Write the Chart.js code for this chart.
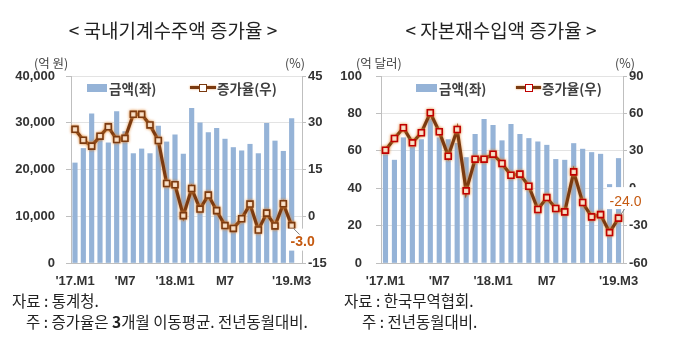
<!DOCTYPE html>
<html><head><meta charset="utf-8">
<script src="https://cdn.jsdelivr.net/npm/chart.js@4/dist/chart.umd.min.js"></script>
<style>
html,body{margin:0;padding:0;background:#fff;width:680px;height:340px;overflow:hidden;}
.abs{position:absolute;white-space:nowrap;}
.kr{font-family:"Noto Sans CJK KR","Liberation Sans",sans-serif;}
.title{font-size:19px;color:#222;transform:translate(-50%,-50%);}
.unit{font-size:12.5px;color:#444;transform:translateY(-50%);}
.leg{font-size:13.5px;font-weight:bold;color:#404040;transform:translateY(-50%);}
.foot{font-size:15.5px;color:#222;transform:translateY(-50%);transform-origin:left center;}
canvas{position:absolute;top:0;}
</style></head>
<body>
<canvas id="c1" width="340" height="300" style="left:0"></canvas>
<canvas id="c2" width="340" height="300" style="left:340px"></canvas>

<div class="abs kr title" style="left:173px;top:29px">&lt; 국내기계수주액 증가율 &gt;</div>
<div class="abs kr title" style="left:501px;top:29px">&lt; 자본재수입액 증가율 &gt;</div>

<div class="abs kr unit" style="left:34px;top:62px">(억 원)</div>
<div class="abs kr unit" style="left:285px;top:62px">(%)</div>
<div class="abs kr unit" style="left:356px;top:62px">(억 달러)</div>
<div class="abs kr unit" style="left:615px;top:62px">(%)</div>

<!-- legends -->
<div class="abs" style="left:87px;top:84px;width:20px;height:8px;background:#95B3D7"></div>
<div class="abs kr leg" style="left:109px;top:88px">금액(좌)</div>
<div class="abs" style="left:190px;top:86px;width:26px;height:3px;background:#7B3A10;box-shadow:0 0 2px #E08A3C"></div>
<div class="abs" style="left:199px;top:84px;width:6px;height:6px;background:#fff;border:1.5px solid #7B3A10"></div>
<div class="abs kr leg" style="left:217px;top:88px">증가율(우)</div>

<div class="abs" style="left:416px;top:84px;width:21px;height:8px;background:#95B3D7"></div>
<div class="abs kr leg" style="left:439px;top:88px">금액(좌)</div>
<div class="abs" style="left:516px;top:86px;width:25px;height:3px;background:#7B3A10;box-shadow:0 0 2px #E08A3C"></div>
<div class="abs" style="left:525px;top:84px;width:6px;height:6px;background:#fff;border:1.5px solid #C00000"></div>
<div class="abs kr leg" style="left:542px;top:88px">증가율(우)</div>

<!-- footers -->
<div class="abs kr foot" style="left:12px;top:300px">자료 : 통계청.</div>
<div class="abs kr foot" style="left:26px;top:321px">주 : 증가율은 <b>3</b>개월 이동평균. 전년동월대비.</div>
<div class="abs kr foot" style="left:344px;top:300px">자료 : 한국무역협회.</div>
<div class="abs kr foot" style="left:362px;top:321px">주 : 전년동월대비.</div>

<script>
// ---- data ----
const months = ["'17.M1","'17.M2","'17.M3","'17.M4","'17.M5","'17.M6","'17.M7","'17.M8","'17.M9","'17.M10","'17.M11","'17.M12",
  "'18.M1","'18.M2","'18.M3","'18.M4","'18.M5","'18.M6","'18.M7","'18.M8","'18.M9","'18.M10","'18.M11","'18.M12",
  "'19.M1","'19.M2","'19.M3"];
const tickIndex = [0, 6, 12, 18, 26];
const tickText = ["'17.M1", "'M7", "'18.M1", "M7", "'19.M3"];

const machineAmount = [21400,24500,31900,26500,25700,32400,28100,23400,24400,23400,29300,25900,
  27400,23300,33100,30000,27900,28800,26500,24700,24000,25400,23400,29900,26100,23900,30900];
const machineGrowth = [27.9,24.4,22.5,25.7,28.7,24.6,25.0,32.7,32.7,29.3,24.3,10.5,
  10.1,0.2,8.9,2.3,6.8,1.8,-3.0,-3.9,-0.8,3.9,-4.4,1.0,-3.1,4.0,-3.0];

const capitalAmount = [58,55,67,62,66,77,67,66,64,56.4,68.8,76.8,
  73.6,65.4,74.1,68.8,66.6,64.8,63.0,55.4,55.0,63.9,60.9,59.1,58.2,42.0,55.9];
const capitalGrowth = [30.5,39.9,48.5,36.4,44.5,60.5,45.3,25.7,47.1,-2.1,23.3,23.3,
  27.3,19.8,10.4,11.3,1.6,-17.1,-7.5,-16.3,-19.0,13.1,-11.5,-23.0,-21.2,-35.6,-24.0];

const leftAxis1 = {min:0, max:40000, step:10000};
const rightAxis1 = {min:-15, max:45, step:15};
const leftAxis2 = {min:0, max:100, step:20};
const rightAxis2 = {min:-60, max:90, step:30};
const lastLabel1 = "-3.0";
const lastLabel2 = "-24.0";

// ---- styling ----
const NUMFONT = '"Liberation Sans","Noto Sans CJK KR",sans-serif';
const BAR = '#95B3D7', LINE = '#7B3A10', GLOW = 'rgba(226,140,60,0.95)', AXIS = '#BFBFBF', GRID = '#E3E3E3';

const glowPlugin = {
  id:'glow',
  beforeDatasetDraw(chart, args){
    if (args.meta.type === 'line'){ const c = chart.ctx; c.save(); c.shadowColor = GLOW; c.shadowBlur = 3; }
  },
  afterDatasetDraw(chart, args){
    if (args.meta.type === 'line'){ chart.ctx.restore(); }
  }
};

function labelPlugin(text, dx, dy, box, lead, bold){
  return {
    id:'lastLabel',
    afterDatasetsDraw(chart){
      const meta = chart.getDatasetMeta(1);
      const pt = meta.data[meta.data.length-1];
      const c = chart.ctx; c.save();
      c.fillStyle = '#fff';
      c.fillRect(pt.x + box[0], pt.y + box[1], box[2], box[3]);
      c.strokeStyle = '#7F7F7F'; c.lineWidth = 1;
      c.beginPath(); c.moveTo(pt.x + lead[0], pt.y + lead[1]); c.lineTo(pt.x + lead[2], pt.y + lead[3]); c.stroke();
      c.font = (bold ? 'bold ' : '') + '14px ' + NUMFONT;
      c.fillStyle = '#C55A11'; c.textAlign = 'center'; c.textBaseline = 'middle';
      c.fillText(text, pt.x + dx, pt.y + dy);
      c.restore();
    }
  };
}

function makeChart(id, amount, growth, la, ra, opts){
  const tickFont = {family:NUMFONT, size:13, weight:'bold'};
  return new Chart(document.getElementById(id), {
    type:'bar',
    data:{ labels:months, datasets:[
      {type:'bar', data:amount, backgroundColor:BAR, barThickness:4.5, yAxisID:'y', order:2},
      {type:'line', data:growth, borderColor:LINE, borderWidth:3.2, yAxisID:'y1', order:1,
       pointStyle:'rect', pointRadius:4.2, pointBorderWidth:1.6, pointBackgroundColor:'#fff',
       pointBorderColor:opts.markerColor, tension:0}
    ]},
    options:{
      responsive:false, animation:false,
      layout:{padding:{top:76, bottom:12, left:0, right:0}},
      plugins:{legend:{display:false}, tooltip:{enabled:false}},
      scales:{
        x:{
          offset:true,
          grid:{display:false, drawTicks:false},
          border:{display:true, color:AXIS},
          ticks:{autoSkip:false, maxRotation:0, minRotation:0, padding:11, color:'#333', font:tickFont,
            callback:(v,i)=>{ const k = tickIndex.indexOf(i); return k>=0 ? tickText[k] : ''; }},
          afterFit:s=>{ s.height = 25; },
          afterBuildTicks:s=>{ if (opts.xRange){ s._startValue = opts.xRange[0]; s._valueRange = opts.xRange[1]; } }
        },
        y:{
          position:'left', min:la.min, max:la.max,
          grid:{color:GRID, drawTicks:true, tickLength:5, tickColor:AXIS},
          border:{display:true, color:AXIS},
          ticks:{stepSize:la.step, padding:opts.lPad, color:'#333', font:tickFont,
            callback:v=>v.toLocaleString('en-US')},
          afterFit:s=>{ s.width = opts.lW; }
        },
        y1:{
          position:'right', min:ra.min, max:ra.max,
          grid:{drawOnChartArea:false, drawTicks:true, tickLength:4, tickColor:AXIS},
          border:{display:true, color:AXIS},
          ticks:{stepSize:ra.step, padding:2, color:'#333', font:tickFont},
          afterFit:s=>{ s.width = opts.rW; }
        }
      }
    },
    plugins:[glowPlugin, opts.label]
  });
}

makeChart('c1', machineAmount, machineGrowth, leftAxis1, rightAxis1, {
  markerColor:LINE, lW:71, rW:38, lPad:11, xRange:[-0.48, 27.72],
  label:labelPlugin(lastLabel1, 11, 17, [-5, 3, 30, 22], [2, 3, 8, 9], true)
});
makeChart('c2', capitalAmount, capitalGrowth, leftAxis2, rightAxis2, {
  markerColor:'#C00000', lW:41, rW:57, lPad:14, xRange:null,
  label:labelPlugin(lastLabel2, 7, -16, [-12, -31, 38, 22], [2, -3, 6, -9], false)
});
</script>
</body></html>
